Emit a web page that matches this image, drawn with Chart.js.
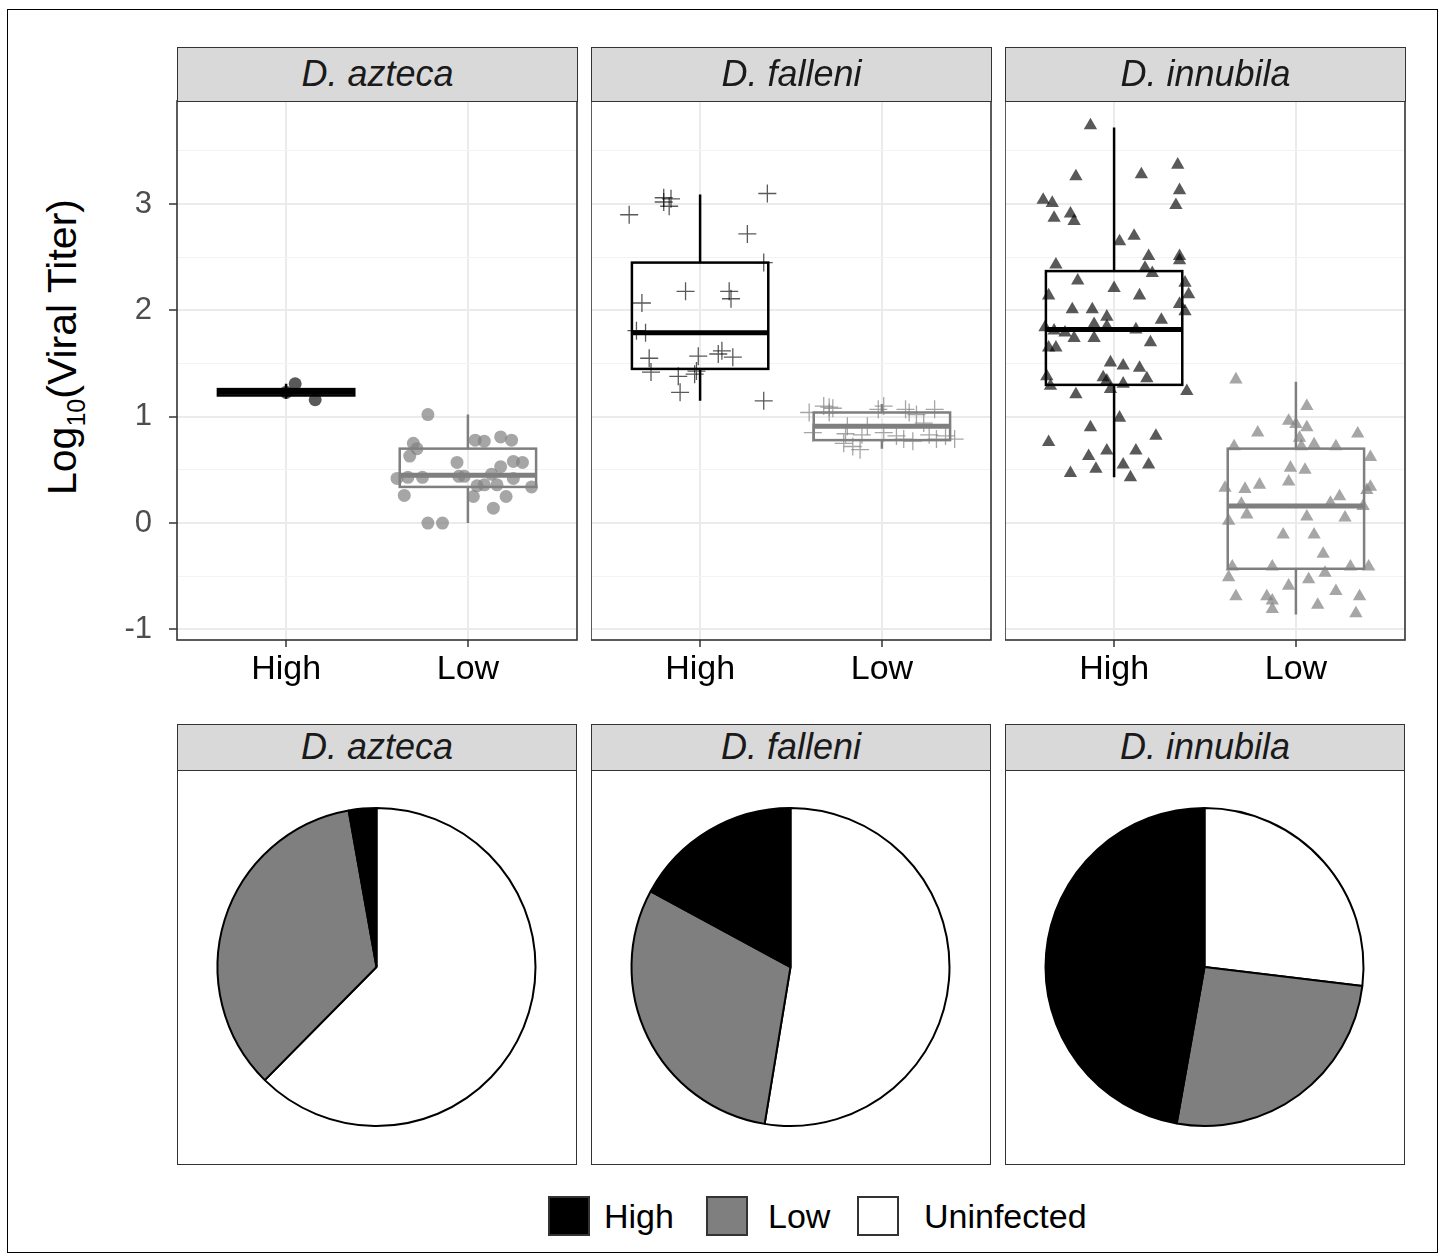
<!DOCTYPE html>
<html>
<head>
<meta charset="utf-8">
<script src="https://cdn.jsdelivr.net/npm/chart.js@4.4.1/dist/chart.umd.min.js"></script>
<style>
  body { margin: 0; background: #fff; font-family: "Liberation Sans", Arial, sans-serif; }
  #page { position: relative; width: 1444px; height: 1260px; }
  .frame { position: absolute; left: 7px; top: 9px; width: 1429px; height: 1242px; border: 1px solid #000; }
  .box { position: absolute; }
  .strip { position: absolute; box-sizing: border-box; background: #d9d9d9; border: 1.5px solid #333;
           font-style: italic; color: #1a1a1a; font-size: 36px; text-align: center; }
  .piePanel { position: absolute; box-sizing: border-box; border: 1.5px solid #333; width: 400px; height: 395px; top: 770px; }
  .piePanel div { position: absolute; left: 0; top: 0; width: 397px; height: 392px; }
  .ytitle { position: absolute; left: -188px; top: 322px; width: 500px; height: 50px; line-height: 50px;
            text-align: center; font-size: 41px; color: #000; transform: rotate(-90deg); }
  .ytitle sub { font-size: 25px; }
  .key { position: absolute; top: 1196px; width: 42px; height: 40px; box-sizing: border-box; border: 2px solid #333; }
  .keyText { position: absolute; top: 1196px; height: 40px; line-height: 40px; font-size: 34px; color: #000; }
</style>
</head>
<body>
<div id="page">
  <div class="frame"></div>

  <div class="ytitle">Log<sub>10</sub>(Viral Titer)</div>

  <div class="box" style="left:20px;top:100px;width:558px;height:601px"><canvas id="topA"></canvas></div>
  <div class="box" style="left:591px;top:100px;width:401px;height:601px"><canvas id="topB"></canvas></div>
  <div class="box" style="left:1005px;top:100px;width:401px;height:601px"><canvas id="topC"></canvas></div>

  <div class="strip" style="left:177px;top:47px;width:401px;height:55px;line-height:52px">D. azteca</div>
  <div class="strip" style="left:591px;top:47px;width:401px;height:55px;line-height:52px">D. falleni</div>
  <div class="strip" style="left:1005px;top:47px;width:401px;height:55px;line-height:52px">D. innubila</div>

  <div class="strip" style="left:177px;top:724px;width:400px;height:47px;line-height:44px">D. azteca</div>
  <div class="strip" style="left:591px;top:724px;width:400px;height:47px;line-height:44px">D. falleni</div>
  <div class="strip" style="left:1005px;top:724px;width:400px;height:47px;line-height:44px">D. innubila</div>

  <div class="piePanel" style="left:177px"><div><canvas id="pieA"></canvas></div></div>
  <div class="piePanel" style="left:591px"><div><canvas id="pieB"></canvas></div></div>
  <div class="piePanel" style="left:1005px"><div><canvas id="pieC"></canvas></div></div>

  <div class="key" style="left:548px;background:#000"></div>
  <div class="keyText" style="left:604px">High</div>
  <div class="key" style="left:706px;background:#7f7f7f"></div>
  <div class="keyText" style="left:768px">Low</div>
  <div class="key" style="left:857px;background:#fff"></div>
  <div class="keyText" style="left:924px">Uninfected</div>
</div>

<script>
Chart.defaults.font.family = "'Liberation Sans', Arial, sans-serif";
Chart.defaults.animation = false;

const groups = ['High', 'Low'];
const yTicks = [-1, -0.5, 0, 0.5, 1, 1.5, 2, 2.5, 3, 3.5];

// jittered points, x in category units (High = 1, Low = 2)
const aztecaHighX = [1.05, 1.16, 1.00];
const aztecaHighY = [1.31, 1.16, 1.23];
const aztecaLowX = [1.78, 1.70, 1.72, 1.68, 1.61, 1.67, 1.75, 1.65, 1.78, 1.86, 1.94, 1.95, 1.98, 2.04, 2.09,
                    2.18, 2.24, 2.25, 2.30, 2.18, 2.13, 2.05, 2.09, 2.16, 2.03, 2.21, 2.14, 2.35, 2.25];
const aztecaLowY = [1.02, 0.75, 0.70, 0.63, 0.42, 0.43, 0.43, 0.26, 0.00, 0.00, 0.57, 0.44, 0.44, 0.78, 0.77,
                    0.81, 0.78, 0.58, 0.57, 0.53, 0.46, 0.35, 0.36, 0.36, 0.25, 0.25, 0.14, 0.34, 0.42];

const falleniHighX = [0.61, 0.80, 0.84, 0.83, 0.80, 1.37, 1.26, 1.35, 0.92, 1.16, 1.17, 0.68, 0.65, 0.70, 0.72,
                      0.73, 0.99, 1.12, 1.18, 1.10, 0.88, 0.97, 0.98, 0.89, 1.35];
const falleniHighY = [2.90, 3.06, 3.05, 2.98, 3.02, 3.10, 2.72, 2.45, 2.18, 2.18, 2.11, 2.07, 1.81, 1.79, 1.55,
                      1.42, 1.57, 1.62, 1.56, 1.59, 1.38, 1.40, 1.43, 1.23, 1.15];
const falleniLowX = [1.60, 1.68, 1.71, 1.71, 1.73, 1.62, 1.80, 1.79, 1.84, 1.88, 1.89, 2.01, 1.98, 2.01, 2.13,
                     2.15, 2.19, 2.23, 2.29, 2.08, 2.12, 2.17, 2.26, 2.30, 2.40, 2.35, 1.92, 1.81];
const falleniLowY = [1.04, 1.10, 1.09, 1.04, 1.08, 0.85, 0.84, 0.75, 0.72, 0.69, 0.83, 1.10, 1.07, 0.85, 1.07,
                     1.04, 1.02, 0.94, 1.07, 0.82, 0.79, 0.77, 0.83, 0.79, 0.79, 0.82, 0.91, 0.91];

const innubilaHighX = [0.87, 0.79, 1.15, 1.35, 1.36, 1.34, 0.61, 0.66, 0.67, 0.76, 0.78, 1.03, 1.11, 1.19, 1.36,
                       1.36, 1.17, 1.21, 0.68, 0.80, 1.00, 1.39, 1.41, 0.64, 1.14, 1.36, 1.39, 0.77, 0.88, 0.96,
                       1.26, 0.62, 0.67, 0.73, 0.78, 0.89, 0.96, 0.89, 1.12, 1.20, 0.64, 0.68, 0.98, 1.05, 1.14,
                       0.94, 0.96, 1.18, 1.05, 0.63, 0.65, 0.98, 0.79, 1.40, 1.03, 0.87, 1.23, 0.64, 0.96, 1.12,
                       0.86, 0.90, 1.05, 1.19, 0.76, 1.09];
const innubilaHighY = [3.74, 3.26, 3.28, 3.37, 3.13, 2.99, 3.04, 3.01, 2.87, 2.91, 2.84, 2.65, 2.70, 2.51, 2.51,
                       2.47, 2.40, 2.35, 2.43, 2.28, 2.21, 2.26, 2.15, 2.14, 2.14, 2.06, 1.99, 2.01, 2.01, 1.94,
                       1.91, 1.84, 1.81, 1.79, 1.74, 1.87, 1.85, 1.74, 1.82, 1.70, 1.65, 1.65, 1.51, 1.48, 1.46,
                       1.37, 1.34, 1.36, 1.31, 1.38, 1.29, 1.26, 1.21, 1.24, 0.99, 0.90, 0.82, 0.76, 0.68, 0.68,
                       0.63, 0.51, 0.55, 0.55, 0.47, 0.43];
const innubilaLowX = [1.67, 2.06, 1.96, 2.00, 2.06, 1.79, 2.34, 2.02, 1.66, 2.10, 2.22, 2.03, 2.41, 1.97, 2.05,
                      1.96, 1.61, 1.72, 1.80, 2.41, 2.39, 2.24, 2.19, 1.70, 2.37, 1.73, 1.63, 2.06, 2.27, 1.93,
                      2.10, 2.15, 1.65, 1.87, 2.30, 2.40, 1.63, 2.16, 2.07, 1.96, 2.22, 1.67, 1.84, 1.87, 1.87,
                      2.12, 2.35, 2.33];
const innubilaLowY = [1.35, 1.10, 0.96, 0.93, 0.90, 0.85, 0.84, 0.80, 0.72, 0.74, 0.72, 0.72, 0.62, 0.52, 0.50,
                      0.39, 0.33, 0.32, 0.36, 0.34, 0.31, 0.25, 0.19, 0.18, 0.16, 0.08, 0.02, 0.06, 0.05, -0.11,
                      -0.11, -0.29, -0.41, -0.41, -0.41, -0.41, -0.51, -0.47, -0.53, -0.59, -0.64, -0.69, -0.69, -0.73, -0.81,
                      -0.77, -0.69, -0.85];

// box stats: [lower whisker, q1, median, q3, upper whisker]
const aztecaHighBox = [1.17, 1.20, 1.23, 1.26, 1.31];
const aztecaLowBox = [0.00, 0.34, 0.45, 0.70, 1.02];
const falleniHighBox = [1.15, 1.45, 1.79, 2.45, 3.09];
const falleniLowBox = [0.70, 0.78, 0.91, 1.04, 1.12];
const innubilaHighBox = [0.43, 1.30, 1.82, 2.37, 3.72];
const innubilaLowBox = [-0.86, -0.43, 0.16, 0.70, 1.33];

// pie shares (%)
const pieLabels = ['High', 'Low', 'Uninfected'];
const aztecaPie = [2.8, 34.8, 62.4];
const falleniPie = [17.1, 30.3, 52.6];
const innubilaPie = [47.2, 25.9, 26.9];
const pieColors = ['#000000', '#7f7f7f', '#ffffff'];

const highColor = 'rgba(0,0,0,0.65)';
const lowColor = 'rgba(128,128,128,0.7)';

function boxPlugin(boxes) {
    return {
        id: 'boxes',
        beforeDatasetsDraw(chart) {
            const { ctx, scales: { x, y } } = chart;
            boxes.forEach(b => {
                const [lo, q1, med, q3, hi] = b.stats;
                const xl = x.getPixelForValue(b.x - 0.375);
                const xr = x.getPixelForValue(b.x + 0.375);
                const xc = x.getPixelForValue(b.x);
                ctx.save();
                ctx.strokeStyle = b.color;
                ctx.lineWidth = 2.5;
                ctx.beginPath();
                ctx.moveTo(xc, y.getPixelForValue(hi));
                ctx.lineTo(xc, y.getPixelForValue(q3));
                ctx.moveTo(xc, y.getPixelForValue(q1));
                ctx.lineTo(xc, y.getPixelForValue(lo));
                ctx.stroke();
                ctx.strokeRect(xl, y.getPixelForValue(q3), xr - xl, y.getPixelForValue(q1) - y.getPixelForValue(q3));
                ctx.lineWidth = 5;
                ctx.beginPath();
                ctx.moveTo(xl, y.getPixelForValue(med));
                ctx.lineTo(xr, y.getPixelForValue(med));
                ctx.stroke();
                ctx.restore();
            });
        }
    };
}

const panelBorder = {
    id: 'panelBorder',
    afterDatasetsDraw(chart) {
        const { ctx, chartArea: a } = chart;
        ctx.save();
        ctx.strokeStyle = '#333';
        ctx.lineWidth = 1.6;
        ctx.strokeRect(a.left, a.top, a.right - a.left, a.bottom - a.top);
        ctx.restore();
    }
};

function makeFacet(id, hx, hy, lx, ly, hBox, lBox, shape, showY) {
    const pts = (xs, ys) => xs.map((v, i) => ({ x: v, y: ys[i] }));
    const cross = shape === 'cross';
    const ds = (data, color) => ({
        data: data,
        pointStyle: shape,
        pointRadius: cross ? 9 : (shape === 'triangle' ? 7.7 : 6.5),
        backgroundColor: color,
        borderColor: color,
        borderWidth: cross ? 1.3 : 0
    });
    const yAxisW = showY ? 157 : 0;

    new Chart(document.getElementById(id), {
        type: 'scatter',
        data: {
            datasets: [ds(pts(hx, hy), highColor), ds(pts(lx, ly), lowColor)]
        },
        options: {
            responsive: true,
            maintainAspectRatio: false,
            devicePixelRatio: 1,
            layout: { autoPadding: false, padding: { top: 1, right: 1, left: 0, bottom: 0 } },
            plugins: { legend: { display: false }, tooltip: { enabled: false } },
            scales: {
                x: {
                    type: 'linear',
                    min: 0.4,
                    max: 2.6,
                    afterBuildTicks: s => { s.ticks = [1, 2].map(v => ({ value: v })); },
                    afterFit: s => { s.height = 61; s.paddingLeft = 0; s.paddingRight = 0; },
                    ticks: {
                        callback: (v, i) => groups[i],
                        color: '#000',
                        font: { size: 34 },
                        padding: 2,
                        maxRotation: 0
                    },
                    grid: { color: '#ebebeb', lineWidth: 2, tickColor: '#333', tickLength: 7, tickWidth: 1.5 },
                    border: { display: false }
                },
                y: {
                    min: -1.1,
                    max: 3.97,
                    afterBuildTicks: s => { s.ticks = yTicks.map(v => ({ value: v })); },
                    afterFit: s => { s.width = yAxisW; s.paddingTop = 0; s.paddingBottom = 0; },
                    ticks: {
                        display: showY,
                        callback: v => Number.isInteger(v) ? String(v) : '',
                        color: '#4d4d4d',
                        font: { size: 31 },
                        padding: 17
                    },
                    grid: {
                        color: c => Number.isInteger(c.tick.value) ? '#ebebeb' : '#f3f3f3',
                        lineWidth: c => Number.isInteger(c.tick.value) ? 2 : 1,
                        drawTicks: showY,
                        tickColor: c => Number.isInteger(c.tick.value) ? '#333' : 'rgba(0,0,0,0)',
                        tickLength: 8,
                        tickWidth: 1.5
                    },
                    border: { display: false }
                }
            }
        },
        plugins: [
            boxPlugin([
                { x: 1, stats: hBox, color: '#000' },
                { x: 2, stats: lBox, color: '#7f7f7f' }
            ]),
            panelBorder
        ]
    });
}

function makePie(id, values) {
    new Chart(document.getElementById(id), {
        type: 'pie',
        data: {
            // drawn clockwise, so reverse to get High, Low, Uninfected running anticlockwise from the top
            labels: pieLabels.slice().reverse(),
            datasets: [{
                data: values.slice().reverse(),
                backgroundColor: pieColors.slice().reverse(),
                borderColor: '#000',
                borderWidth: 2
            }]
        },
        options: {
            responsive: true,
            maintainAspectRatio: false,
            devicePixelRatio: 1,
            layout: { padding: { left: 38, right: 38, top: 36, bottom: 36 } },
            plugins: { legend: { display: false }, tooltip: { enabled: false } }
        }
    });
}

makeFacet('topA', aztecaHighX, aztecaHighY, aztecaLowX, aztecaLowY, aztecaHighBox, aztecaLowBox, 'circle', true);
makeFacet('topB', falleniHighX, falleniHighY, falleniLowX, falleniLowY, falleniHighBox, falleniLowBox, 'cross', false);
makeFacet('topC', innubilaHighX, innubilaHighY, innubilaLowX, innubilaLowY, innubilaHighBox, innubilaLowBox, 'triangle', false);

makePie('pieA', aztecaPie);
makePie('pieB', falleniPie);
makePie('pieC', innubilaPie);
</script>
</body>
</html>
